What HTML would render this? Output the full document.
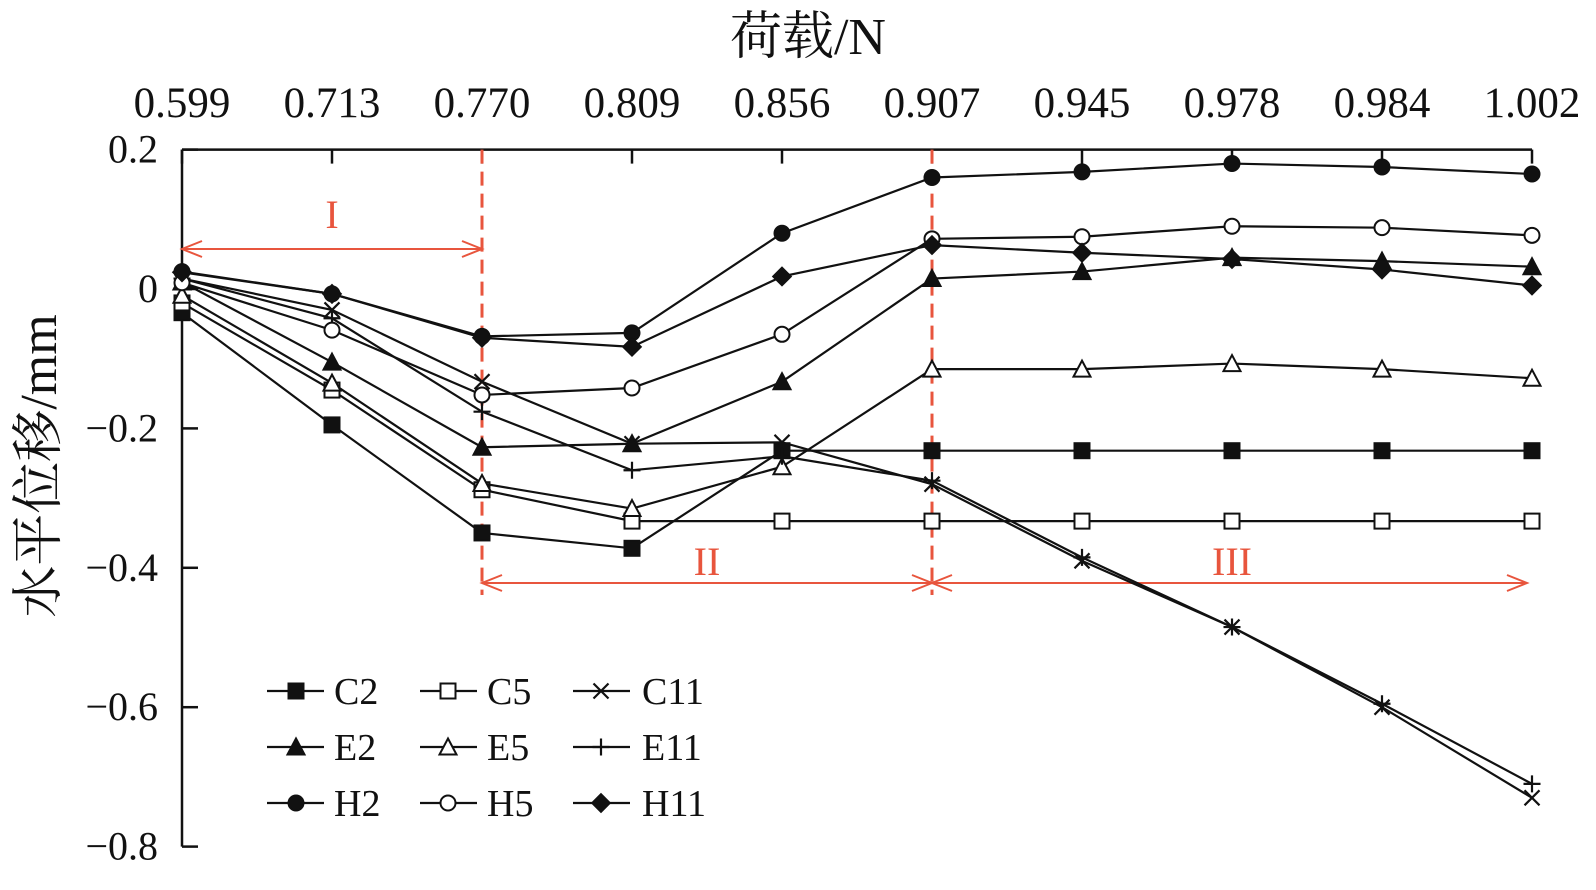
<!DOCTYPE html>
<html><head><meta charset="utf-8"><style>
html,body{margin:0;padding:0;background:#fff;}
svg text{font-family:"Liberation Serif","Noto Serif CJK SC",serif;fill:#111;}
</style></head><body>
<svg id="chart" width="1596" height="885" viewBox="0 0 1596 885" xmlns="http://www.w3.org/2000/svg">
<g id="axes"></g>
<g id="regions"></g>
<g id="series"></g>
<g id="legend"></g>
</svg>
<script>
const categories = ["0.599","0.713","0.770","0.809","0.856","0.907","0.945","0.978","0.984","1.002"];
const yTicks = [0.2,0,-0.2,-0.4,-0.6,-0.8];
const yTickLabels = ["0.2","0","\u22120.2","\u22120.4","\u22120.6","\u22120.8"];
const seriesNames = ["C2","C5","C11","E2","E5","E11","H2","H5","H11"];
const C2 = [-0.034,-0.195,-0.35,-0.372,-0.232,-0.232,-0.232,-0.232,-0.232,-0.232];
const C5 = [-0.02,-0.145,-0.288,-0.333,-0.333,-0.333,-0.333,-0.333,-0.333,-0.333];
const C11 = [0.015,-0.03,-0.133,-0.222,-0.22,-0.28,-0.39,-0.485,-0.6,-0.73];
const E2 = [0.01,-0.105,-0.227,-0.222,-0.133,0.015,0.025,0.045,0.04,0.032];
const E5 = [-0.009,-0.135,-0.279,-0.315,-0.255,-0.115,-0.115,-0.107,-0.115,-0.128];
const E11 = [0.015,-0.042,-0.176,-0.26,-0.24,-0.275,-0.385,-0.485,-0.595,-0.71];
const H2 = [0.025,-0.007,-0.068,-0.063,0.08,0.16,0.168,0.18,0.175,0.165];
const H5 = [0.009,-0.059,-0.152,-0.142,-0.065,0.072,0.075,0.09,0.088,0.077];
const H11 = [0.024,-0.007,-0.07,-0.083,0.018,0.063,0.052,0.043,0.028,0.005];
const markers = ["sqf","sqo","x","trif","trio","plus","cirf","ciro","diaf"];
const regionLabels = ["I","II","III"];

const NS="http://www.w3.org/2000/svg";
const X0=182, X1=1532, Y0=289, PPU=697;
const xs=i=>X0+i*(X1-X0)/(categories.length-1);
const ys=v=>Y0-v*PPU;
function mk(tag,attrs,parent){const e=document.createElementNS(NS,tag);for(const k in attrs)e.setAttribute(k,attrs[k]);parent.appendChild(e);return e;}
const axes=document.getElementById('axes');
let el;
el=mk('line',{x1:X0,y1:ys(0.2),x2:X0,y2:ys(-0.8),stroke:'#111','stroke-width':2.5},axes);


el=mk('line',{x1:X0,y1:ys(0.2),x2:X1,y2:ys(0.2),stroke:'#111','stroke-width':2.5},axes);


yTicks.forEach((v,i)=>{
  const t=mk('line',{x1:X0,y1:ys(v),x2:X0+16,y2:ys(v),stroke:'#111','stroke-width':2.5},axes);
  
  
  const l=mk('text',{x:158,y:ys(v)+13,'text-anchor':'end','font-size':40},axes);
  l.textContent=yTickLabels[i];
  
  
});
categories.forEach((c,i)=>{
  const t=mk('line',{x1:xs(i),y1:ys(0.2),x2:xs(i),y2:ys(0.2)+14,stroke:'#111','stroke-width':2.5},axes);
  
  
  const l=mk('text',{x:xs(i),y:117,'text-anchor':'middle','font-size':43},axes);
  l.textContent=c;
  
  
});
el=mk('text',{x:808,y:54,'text-anchor':'middle','font-size':52},axes);
el.textContent='荷载/N';


el=mk('text',{x:0,y:0,'text-anchor':'middle','font-size':52,transform:'translate(56,466) rotate(-90)'},axes);
el.textContent='水平位移/mm';



// regions
const reg=document.getElementById('regions');
const RED='#e8553d';
[2,5].forEach(i=>{
  const d=mk('line',{x1:xs(i),y1:ys(0.2),x2:xs(i),y2:595,stroke:RED,'stroke-width':3,'stroke-dasharray':'14,8'},reg);
  
  
});
function arrow(xa,xb,y,name){
  const g=mk('g',{stroke:RED,'stroke-width':2,fill:'none'},reg);
  
  
  mk('line',{x1:xa,y1:y,x2:xb,y2:y},g);
  mk('polyline',{points:`${xa+20},${y-8} ${xa},${y} ${xa+20},${y+8}`},g);
  mk('polyline',{points:`${xb-20},${y-8} ${xb},${y} ${xb-20},${y+8}`},g);
}
arrow(X0,xs(2),249,'stage-i-arrow');
arrow(xs(2),xs(5),583,'stage-ii-arrow');
arrow(xs(5),X1-5,583,'stage-iii-arrow');
[[ (X0+xs(2))/2,228],[(xs(2)+xs(5))/2,575],[(xs(5)+X1)/2,575]].forEach((p,i)=>{
  const t=mk('text',{x:p[0],y:p[1],'text-anchor':'middle','font-size':40,style:'fill:'+RED},reg);
  t.textContent=regionLabels[i];
  
  
});

function marker(type,x,y,parent){
  const s=7.5;
  const f=type.endsWith('f')?'#111':'#fff';
  let e;
  if(type.startsWith('sq')) e=mk('rect',{x:x-s,y:y-s,width:2*s,height:2*s,fill:f,stroke:'#111','stroke-width':2},parent);
  else if(type.startsWith('tri')) e=mk('polygon',{points:`${x},${y-s-1} ${x+s+1},${y+s} ${x-s-1},${y+s}`,fill:f,stroke:'#111','stroke-width':2},parent);
  else if(type.startsWith('cir')) e=mk('circle',{cx:x,cy:y,r:s,fill:f,stroke:'#111','stroke-width':2},parent);
  else if(type.startsWith('dia')) e=mk('polygon',{points:`${x},${y-s-2} ${x+s+2},${y} ${x},${y+s+2} ${x-s-2},${y}`,fill:f,stroke:'#111','stroke-width':1},parent);
  else if(type==='x') e=mk('path',{d:`M${x-s},${y-s}L${x+s},${y+s}M${x-s},${y+s}L${x+s},${y-s}`,stroke:'#111','stroke-width':2.2},parent);
  else e=mk('path',{d:`M${x-s-1},${y}L${x+s+1},${y}M${x},${y-s-1}L${x},${y+s+1}`,stroke:'#111','stroke-width':2.2},parent);
  return e;
}
const data=[C2,C5,C11,E2,E5,E11,H2,H5,H11];
const sg=document.getElementById('series');
data.forEach((arr,k)=>{
  const g=mk('g',{},sg);
  
  
  const pl=mk('polyline',{points:arr.map((v,i)=>xs(i)+','+ys(v)).join(' '),fill:'none',stroke:'#111','stroke-width':2.2},g);
  
  
  arr.forEach((v,i)=>{
    const m=marker(markers[k],xs(i),ys(v),g);
    
    
  });
});
// legend
const lg=document.getElementById('legend');
const colX=[[267,324,296,334],[420,477,448,487],[573,630,601,642]];
const rowY=[691,747,803];
seriesNames.forEach((n,k)=>{
  const r=Math.floor(k/3), c=k%3;
  const g=mk('g',{},lg);
  
  
  const y=rowY[r], cx=colX[c];
  mk('line',{x1:cx[0],y1:y,x2:cx[1],y2:y,stroke:'#111','stroke-width':2.2},g);
  marker(markers[k],cx[2],y,g);
  const t=mk('text',{x:cx[3],y:y+13,'font-size':38},g);
  t.textContent=n;
});
</script>
</body></html>
